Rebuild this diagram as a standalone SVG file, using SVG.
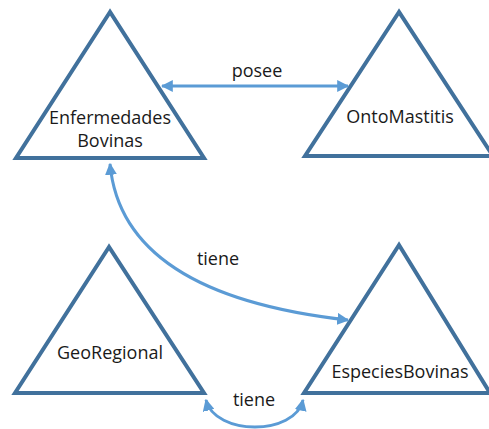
<svg xmlns="http://www.w3.org/2000/svg" width="489" height="429" viewBox="0 0 489 429">
<style>
.tri{fill:#fff;stroke:#41719C;stroke-width:4;stroke-linejoin:miter}
.lbl{font-family:"Open Sans","Noto Sans",sans-serif;font-size:18px;fill:#1a1a1a;text-anchor:middle}
.con{fill:none;stroke:#5B9BD5;stroke-width:3}
</style>
<defs>
<marker id="ah" viewBox="0 0 10 10" refX="9" refY="5" markerWidth="4" markerHeight="4" orient="auto-start-reverse" markerUnits="strokeWidth">
<path d="M0,0 L10,5 L0,10 z" fill="#5B9BD5"/>
</marker>
</defs>
<rect width="489" height="429" fill="#fff"/>
<g id="EnfermedadesBovinas">
<polygon class="tri" points="110,12 16,158 204,158"/>
<text class="lbl" x="110" y="124">Enfermedades</text>
<text class="lbl" x="110" y="147">Bovinas</text>
</g>
<g id="OntoMastitis">
<polygon class="tri" points="399,12 305,156 493,156"/>
<text class="lbl" x="400" y="123">OntoMastitis</text>
</g>
<g id="GeoRegional">
<polygon class="tri" points="109,247 15,393 204,393"/>
<text class="lbl" x="110" y="359">GeoRegional</text>
</g>
<g id="EspeciesBovinas">
<polygon class="tri" points="399,245 304,393 490,393"/>
<text class="lbl" x="400" y="378">EspeciesBovinas</text>
</g>
<g id="connectors">
<line class="con" x1="162" y1="86" x2="348" y2="86" marker-start="url(#ah)" marker-end="url(#ah)"/>
<text class="lbl" x="257" y="77">posee</text>
<path class="con" d="M110,164 Q122,295 348,320" marker-start="url(#ah)" marker-end="url(#ah)"/>
<text class="lbl" x="218" y="265">tiene</text>
<path class="con" d="M206,400 C215,436 295,436 303,400" marker-start="url(#ah)" marker-end="url(#ah)"/>
<text class="lbl" x="254" y="406">tiene</text>
</g>
</svg>
